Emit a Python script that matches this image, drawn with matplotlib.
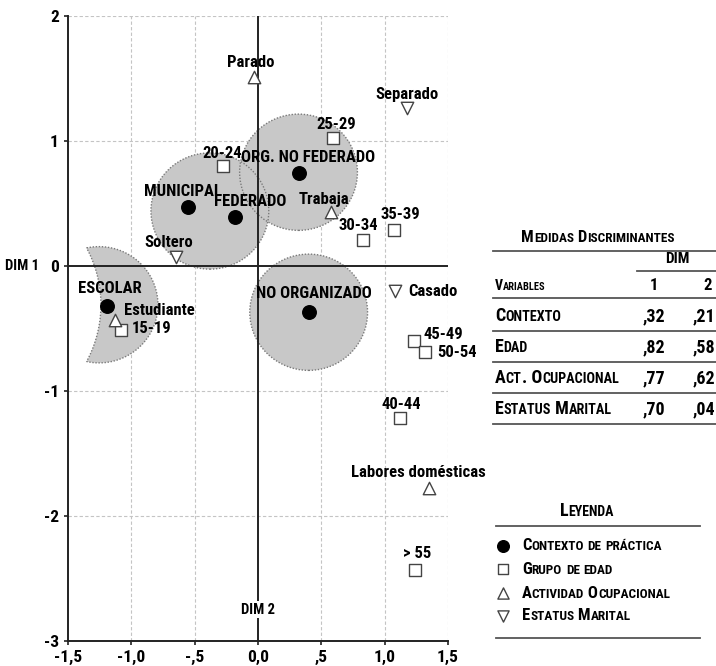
import numpy as np
import matplotlib
matplotlib.use('Agg')
import matplotlib.pyplot as plt
from matplotlib.patches import Circle, Polygon
from matplotlib.offsetbox import TextArea, HPacker, AnnotationBbox
import matplotlib.transforms as mtrans

plt.rcParams['font.family'] = ['Roboto Condensed', 'PT Sans Narrow', 'Archivo Narrow', 'DejaVu Sans']
W = 'heavy'
plt.rcParams['font.weight'] = W

# contexto de practica
ctx_labels = ['ESCOLAR', 'MUNICIPAL', 'FEDERADO', 'ORG. NO FEDERADO', 'NO ORGANIZADO']
ctx_x = [-1.19, -0.55, -0.18, 0.32, 0.40]
ctx_y = [-0.32, 0.47, 0.39, 0.74, -0.37]

# grupo de edad
edad_labels = ['15-19', '20-24', '25-29', '30-34', '35-39', '40-44', '45-49', '50-54', '> 55']
edad_x = [-1.08, -0.28, 0.59, 0.83, 1.07, 1.12, 1.23, 1.32, 1.24]
edad_y = [-0.51, 0.80, 1.02, 0.21, 0.29, -1.22, -0.60, -0.69, -2.43]

# actividad ocupacional
ocup_labels = ['Estudiante', 'Parado', 'Trabaja', 'Labores domésticas']
ocup_x = [-1.13, -0.03, 0.58, 1.35]
ocup_y = [-0.43, 1.51, 0.43, -1.78]

# estatus marital
mar_labels = ['Soltero', 'Casado', 'Separado']
mar_x = [-0.65, 1.08, 1.18]
mar_y = [0.07, -0.20, 1.26]

# shaded groups (centre x, centre y, radius)
grp_x = [-0.38, 0.32, 0.40]
grp_y = [0.44, 0.75, -0.37]
grp_r = [0.465, 0.465, 0.465]
# escolar group is a lune: outer circle minus a cut circle
lune_outer = (-1.255, -0.31, 0.465)
lune_cut = (-2.21, 0.97)

# medidas discriminantes
var_names = ['Contexto', 'Edad', 'Act. Ocupacional', 'Estatus Marital']
dim1 = [',32', ',82', ',77', ',70']
dim2 = [',21', ',58', ',62', ',04']

xticks = [-1.5, -1.0, -0.5, 0.0, 0.5, 1.0, 1.5]
xtick_labels = ['-1,5', '-1,0', '-,5', '0,0', ',5', '1,0', '1,5']
yticks = [-3, -2, -1, 0, 1, 2]

# label offsets in pixels (dx, dy, ha)
ctx_off = [(3, 17, 'center'), (-5, 16, 'center'), (15, 16, 'center'), (10, 16, 'center'), (5, 19, 'center')]
edad_off = [(11, 1, 'left'), (0, 13, 'center'), (3, 14, 'center'), (-5, 14, 'center'), (7, 15, 'center'),
            (1, 14, 'center'), (10, 6, 'left'), (12, 0, 'left'), (2, 16, 'center')]
ocup_off = [(9, 9, 'left'), (-3, 15, 'center'), (-8, 13, 'center'), (-11, 16, 'center')]
mar_off = [(-7, 15, 'center'), (13, -1, 'left'), (0, 14, 'center')]

FS = 12
FILL = '#c8c8c8'
EDGE = '#7a7a7a'


def lune_points(cx, cy, r, kx, kr):
    d = cx - kx
    xi = (d**2 + kr**2 - r**2) / (2 * d)
    h = np.sqrt(kr**2 - xi**2)
    t0 = np.arctan2(h, kx + xi - cx)
    p0 = np.arctan2(h, xi)
    t = np.linspace(t0, -t0, 90)
    outer = np.column_stack([cx + r * np.cos(t), cy + r * np.sin(t)])
    p = np.linspace(-p0, p0, 40)
    inner = np.column_stack([kx + kr * np.cos(p), cy + kr * np.sin(p)])
    return np.vstack([outer, inner])


def label_all(ax, xs, ys, labels, offs):
    for x, y, s, (dx, dy, ha) in zip(xs, ys, labels, offs):
        ax.annotate(s, (x, y), xytext=(dx, dy), textcoords='offset pixels',
                    ha=ha, va='center', fontsize=FS, fontweight=W, zorder=6)


def smallcaps(s, big, small):
    # split into runs of capitals (big) and lower case (small, upper-cased)
    runs = []
    for ch in s:
        kind = 'big' if (ch.isupper() or ch.isdigit() or ch in '. ') else 'small'
        if runs and runs[-1][0] == kind:
            runs[-1][1] += ch
        else:
            runs.append([kind, ch])
    parts = []
    for kind, txt in runs:
        size = big if kind == 'big' else small
        parts.append(TextArea(txt.upper(), textprops=dict(fontsize=size, fontweight=W)))
    return HPacker(children=parts, align='baseline', pad=0, sep=0)


def put_sc(ax, s, x, y, big=10, small=7.5, ha=0.0):
    box = smallcaps(s, big, small)
    ab = AnnotationBbox(box, (x, y), xycoords='data', frameon=False,
                        box_alignment=(ha, 0.5), pad=0)
    ax.add_artist(ab)


fig = plt.figure(figsize=(7.16, 6.66), dpi=100)
ax = fig.add_axes([68 / 716, 25 / 666, 380 / 716, 625 / 666])
ax.set_xlim(-1.5, 1.5)
ax.set_ylim(-3, 2)

# grid
for gx in [-1.0, -0.5, 0.5, 1.0, 1.5]:
    ax.axvline(gx, color='#c4c4c4', lw=0.8, ls=(0, (3, 2)), zorder=0)
for gy in [-2, -1, 1, 2]:
    ax.axhline(gy, color='#c4c4c4', lw=0.8, ls=(0, (3, 2)), zorder=0)

# shaded groups: fills first, dotted edges on top
for cx, cy, r in zip(grp_x, grp_y, grp_r):
    ax.add_patch(Circle((cx, cy), r, facecolor=FILL, edgecolor='none', zorder=1))
lune = lune_points(*lune_outer, *lune_cut)
ax.add_patch(Polygon(lune, closed=True, facecolor=FILL, edgecolor='none', zorder=1))
for cx, cy, r in zip(grp_x, grp_y, grp_r):
    ax.add_patch(Circle((cx, cy), r, fill=False, edgecolor=EDGE, lw=1.0, ls=(0, (1, 1.2)), zorder=2))
ax.add_patch(Polygon(lune, closed=True, fill=False, edgecolor=EDGE, lw=1.0, ls=(0, (1, 1.2)), zorder=2))

# zero axes
ax.axvline(0, color='#222222', lw=1.4, zorder=3)
ax.axhline(0, color='#222222', lw=1.4, zorder=3)

# points
ax.scatter(ctx_x, ctx_y, s=95, marker='o', color='black', zorder=5)
ax.scatter(edad_x, edad_y, s=70, marker='s', facecolor='white', edgecolor='#444444', lw=1.0, zorder=5)
ax.scatter(ocup_x, ocup_y, s=80, marker='^', facecolor='white', edgecolor='#444444', lw=1.0, zorder=5)
ax.scatter(mar_x, mar_y, s=80, marker='v', facecolor='white', edgecolor='#444444', lw=1.0, zorder=5)

label_all(ax, ctx_x, ctx_y, ctx_labels, ctx_off)
label_all(ax, edad_x, edad_y, edad_labels, edad_off)
label_all(ax, ocup_x, ocup_y, ocup_labels, ocup_off)
label_all(ax, mar_x, mar_y, mar_labels, mar_off)
for t in ax.texts:
    t.set_clip_on(False)

# axes decoration
for side in ['top', 'right']:
    ax.spines[side].set_visible(False)
for side in ['left', 'bottom']:
    ax.spines[side].set_linewidth(1.4)
    ax.spines[side].set_color('#222222')
ax.set_xticks(xticks)
ax.set_xticklabels(xtick_labels)
ax.set_yticks(yticks)
ax.set_yticklabels([str(v) for v in yticks])
ax.tick_params(labelsize=12.5, length=3, width=1.2, color='#222222')
for lab in ax.get_xticklabels() + ax.get_yticklabels():
    lab.set_fontweight(W)

blend = mtrans.blended_transform_factory(ax.transAxes, ax.transData)
ax.text(-0.12, 0, 'DIM 1', transform=blend, ha='center', va='center', fontsize=10.5, fontweight=W)
ax.text(0, -2.75, 'DIM 2', ha='center', va='center', fontsize=10.5, fontweight=W, zorder=4,
        bbox=dict(facecolor='white', edgecolor='none', pad=1))

# table and legend drawn on a pixel overlay
ov = fig.add_axes([0, 0, 1, 1])
ov.set_axis_off()
ov.set_xlim(0, 716)
ov.set_ylim(666, 0)

LINE = '#555555'
put_sc(ov, 'Medidas Discriminantes', 598, 238, big=12, small=9.5, ha=0.5)
ov.plot([493, 716], [251, 251], color=LINE, lw=1.3)
ov.text(677, 259, 'DIM', ha='center', va='center', fontsize=11, fontweight=W)
ov.plot([637, 716], [271, 271], color=LINE, lw=1.3)
put_sc(ov, 'Variables', 495, 286, big=10, small=7.5)
ov.text(654, 286, '1', ha='center', va='center', fontsize=12, fontweight=W)
ov.text(708, 286, '2', ha='center', va='center', fontsize=12, fontweight=W)
ov.plot([493, 716], [298, 298], color=LINE, lw=1.3)
row_y = [316, 347, 378, 409]
for name, a, b, ry in zip(var_names, dim1, dim2, row_y):
    put_sc(ov, name, 495, ry, big=13, small=10.2)
    ov.text(654, ry, a, ha='center', va='center', fontsize=13, fontweight=W)
    ov.text(704, ry, b, ha='center', va='center', fontsize=13, fontweight=W)
    ov.plot([493, 716], [ry + 15, ry + 15], color=LINE, lw=1.3)

# legend
put_sc(ov, 'Leyenda', 587, 511, big=13, small=10, ha=0.5)
ov.plot([496, 700], [526, 526], color=LINE, lw=1.3)
leg_names = ['Contexto de práctica', 'Grupo de edad', 'Actividad Ocupacional', 'Estatus Marital']
leg_y = [546, 569, 593, 616]
leg_style = [dict(marker='o', s=70, color='black'),
             dict(marker='s', s=60, facecolor='white', edgecolor='#444444', lw=1.0),
             dict(marker='^', s=65, facecolor='white', edgecolor='#444444', lw=1.0),
             dict(marker='v', s=65, facecolor='white', edgecolor='#444444', lw=1.0)]
for name, ly, st in zip(leg_names, leg_y, leg_style):
    ov.scatter([503], [ly], **st)
    put_sc(ov, name, 522, ly, big=12, small=9.5)
ov.plot([496, 700], [638, 638], color=LINE, lw=1.3)

fig.savefig('out.png', dpi=100)
